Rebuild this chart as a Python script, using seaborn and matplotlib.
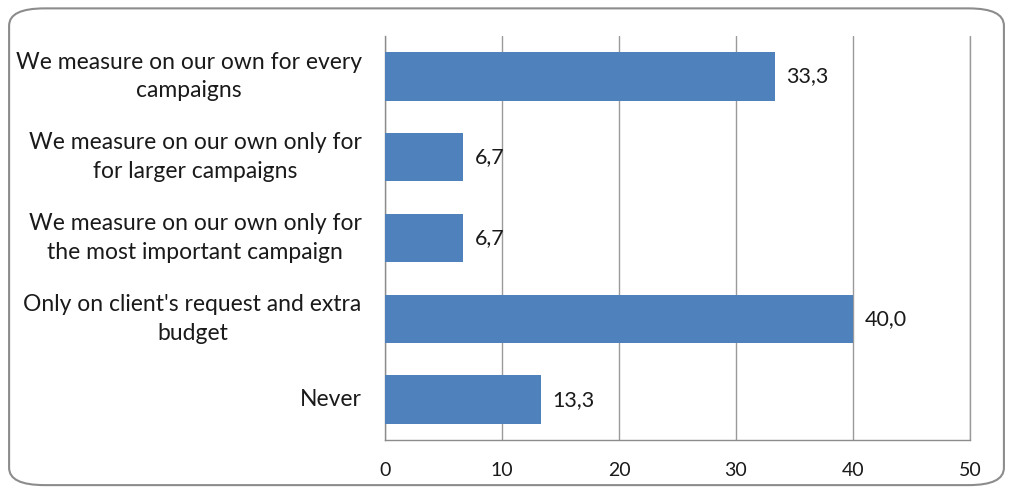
import matplotlib
matplotlib.use("Agg")
import matplotlib.pyplot as plt
from matplotlib.patches import FancyBboxPatch
import seaborn as sns
import pandas as pd

categories = [
    "We measure on our own for every\ncampaigns",
    "We measure on our own only for\nfor larger campaigns",
    "We measure on our own only for\nthe most important campaign",
    "Only on client's request and extra\nbudget",
    "Never",
]
values = [33.3, 6.7, 6.7, 40.0, 13.3]
xticks = [0, 10, 20, 30, 40, 50]

df = pd.DataFrame({"answer": categories, "pct": values})

sns.set_style("white")
plt.rcParams["font.family"] = ["Lato", "DejaVu Sans"]

fig = plt.figure(figsize=(10.11, 4.93), dpi=100)
ax = fig.add_axes([0.3808, 0.1075, 0.5786, 0.8195])

# rounded frame around the whole chart
frame = FancyBboxPatch((0.009, 0.016), 0.984, 0.967,
                       boxstyle="round,pad=0,rounding_size=0.035",
                       transform=fig.transFigure, fill=False,
                       edgecolor="#8c8c8c", linewidth=1.5, zorder=0)
fig.patches.append(frame)

sns.barplot(data=df, x="pct", y="answer", orient="h", color="#4F81BD",
            width=0.6, saturation=1, linewidth=0, ax=ax, zorder=3)

ax.set_xlim(0, 50)
ax.set_ylim(4.5, -0.5)
ax.set_xticks(xticks)
ax.set_xticklabels([str(t) for t in xticks], fontsize=14, color="#1a1a1a")
ax.set_xlabel("")
ax.set_ylabel("")
ax.xaxis.grid(True, color="#9a9a9a", linewidth=1, zorder=0)
ax.axvline(50, color="#9a9a9a", linewidth=1, clip_on=False, zorder=0)
ax.set_axisbelow(True)

# category ticks sit on the boundaries between bars
ax.set_yticks([i - 0.5 for i in range(len(categories) + 1)])
ax.set_yticklabels([])
ax.tick_params(axis="y", length=6, color="#8c8c8c", width=1)
ax.tick_params(axis="x", length=6, color="#8c8c8c", width=1, pad=10)
for i, lab in enumerate(categories):
    ax.text(-0.04, i, lab, transform=ax.get_yaxis_transform(), ha="right",
            multialignment="center", va="center", fontsize=16.5,
            color="#1a1a1a", linespacing=1.45)

for s in ["top", "right"]:
    ax.spines[s].set_visible(False)
for s in ["left", "bottom"]:
    ax.spines[s].set_color("#8c8c8c")
    ax.spines[s].set_linewidth(1)

for i, v in enumerate(values):
    ax.text(v + 1.0, i, f"{v:.1f}".replace(".", ","), va="center", ha="left",
            fontsize=15.5, color="#1a1a1a", zorder=4)

fig.savefig("out.png", dpi=100)
